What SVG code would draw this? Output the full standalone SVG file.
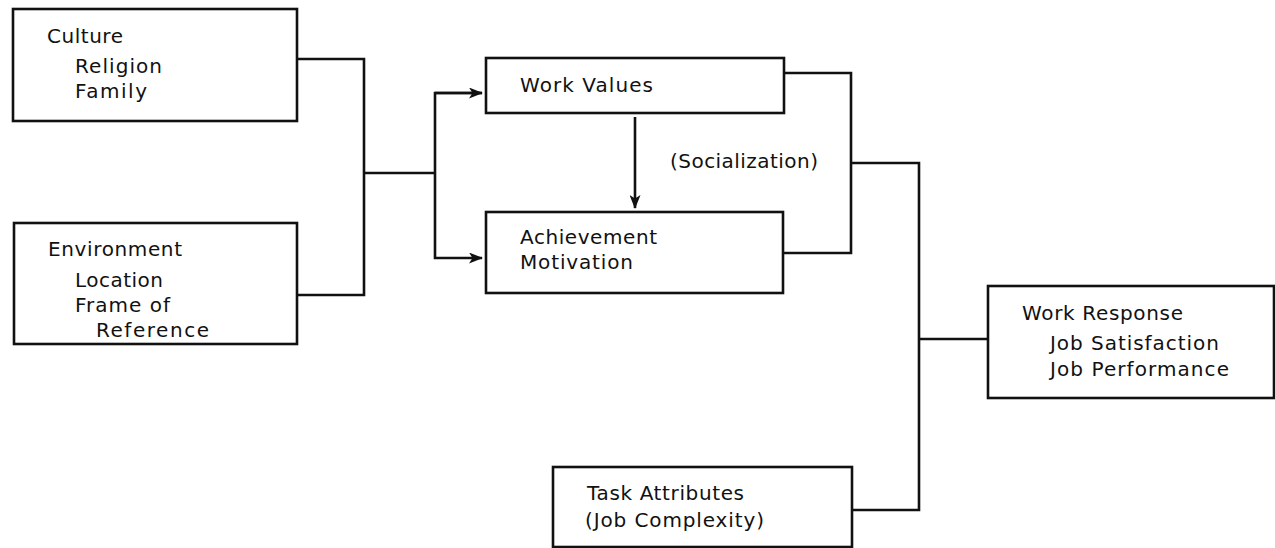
<svg xmlns="http://www.w3.org/2000/svg" width="1275" height="548" viewBox="0 0 1275 548">
<style>
.box{fill:#fff;stroke:#111;stroke-width:2.6}
.ln{fill:none;stroke:#111;stroke-width:2.6}
text{font-family:"DejaVu Sans","Liberation Sans",sans-serif;font-size:20px;fill:#111}
</style>
<defs>
<marker id="arr" viewBox="0 0 14 11" refX="13" refY="5.5" markerWidth="14" markerHeight="11" markerUnits="userSpaceOnUse" orient="auto">
<path d="M0,0 L14,5.5 L0,11 L3.5,5.5 z" fill="#111"/>
</marker>
</defs>
<rect width="1275" height="548" fill="#fff"/>
<g id="connectors">
<path class="ln" d="M297,59 H364 V295 H297"/>
<path class="ln" d="M364,173 H435"/>
<path class="ln" d="M482,93 H435 V258 H482" marker-end="url(#arr)"/>
<path class="ln" d="M435,93 H482" marker-end="url(#arr)"/>
<path class="ln" d="M635,117 V208" marker-end="url(#arr)"/>
<path class="ln" d="M784,73 H851 V253 H784"/>
<path class="ln" d="M851,163 H919 V510 H852"/>
<path class="ln" d="M919,339 H988"/>
</g>
<g id="culture">
<rect class="box" x="13" y="9" width="284" height="112"/>
<text x="47" y="43" textLength="76" lengthAdjust="spacing">Culture</text>
<text x="75" y="73" textLength="87" lengthAdjust="spacing">Religion</text>
<text x="75" y="98" textLength="72" lengthAdjust="spacing">Family</text>
</g>
<g id="environment">
<rect class="box" x="14" y="223" width="283" height="121"/>
<text x="48" y="256" textLength="134" lengthAdjust="spacing">Environment</text>
<text x="75" y="287" textLength="88" lengthAdjust="spacing">Location</text>
<text x="75" y="312" textLength="95" lengthAdjust="spacing">Frame of</text>
<text x="96" y="337" textLength="113" lengthAdjust="spacing">Reference</text>
</g>
<g id="work-values">
<rect class="box" x="486" y="58" width="298" height="55"/>
<text x="520" y="92" textLength="133" lengthAdjust="spacing">Work Values</text>
</g>
<g id="achievement">
<rect class="box" x="486" y="212" width="297" height="81"/>
<text x="520" y="244" textLength="137" lengthAdjust="spacing">Achievement</text>
<text x="520" y="269" textLength="113" lengthAdjust="spacing">Motivation</text>
</g>
<g id="socialization-label">
<text x="670" y="168" textLength="148" lengthAdjust="spacing">(Socialization)</text>
</g>
<g id="work-response">
<rect class="box" x="988" y="286" width="286" height="112"/>
<text x="1022" y="320" textLength="161" lengthAdjust="spacing">Work Response</text>
<text x="1050" y="350" textLength="169" lengthAdjust="spacing">Job Satisfaction</text>
<text x="1050" y="376" textLength="179" lengthAdjust="spacing">Job Performance</text>
</g>
<g id="task-attributes">
<rect class="box" x="553" y="467" width="299" height="80"/>
<text x="587" y="500" textLength="157" lengthAdjust="spacing">Task Attributes</text>
<text x="585" y="527" textLength="179" lengthAdjust="spacing">(Job Complexity)</text>
</g>
</svg>
